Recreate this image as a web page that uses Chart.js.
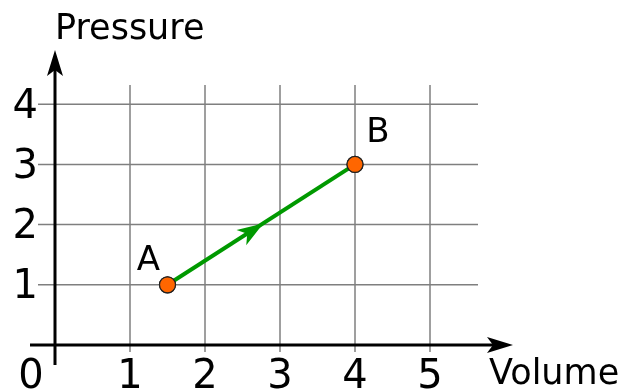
<!DOCTYPE html>
<html lang="en">
<head>
  <meta charset="UTF-8">
  <title>Pressure vs Volume</title>
  <script src="https://cdn.jsdelivr.net/npm/chart.js"></script>
  <style>
    html, body { margin: 0; padding: 0; background: #ffffff; }
    .chart-container { width: 624px; height: 390px; }
  </style>
</head>
<body>
  <div class="chart-container">
    <canvas id="pvChart" width="624" height="390"></canvas>
  </div>

  <script>
    // data
    const pointLabels = ['A', 'B'];
    const volumeValues = [1.5, 4];
    const pressureValues = [1, 3];
    const xTickLabels = [0, 1, 2, 3, 4, 5];
    const yTickLabels = [1, 2, 3, 4];

    const FONT = '"DejaVu Sans", Verdana, sans-serif';

    function arrowHead(ctx, tipX, tipY, angle, len, half, notch) {
      ctx.save();
      ctx.translate(tipX, tipY);
      ctx.rotate(angle);
      ctx.beginPath();
      ctx.moveTo(0, 0);
      ctx.lineTo(-len, -half);
      ctx.lineTo(-len + notch, 0);
      ctx.lineTo(-len, half);
      ctx.closePath();
      ctx.fill();
      ctx.restore();
    }

    // grid, axes and tick labels
    const axesPlugin = {
      id: 'axesPlugin',
      beforeDatasetsDraw(chart) {
        const ctx = chart.ctx;
        const x = chart.scales.x, y = chart.scales.y;
        const area = chart.chartArea;
        const x0 = x.getPixelForValue(0), y0 = y.getPixelForValue(0);
        ctx.save();

        // grid
        ctx.strokeStyle = '#7f7f7f';
        ctx.lineWidth = 1.5;
        xTickLabels.forEach(v => {
          if (v === 0) return;
          const px = x.getPixelForValue(v);
          ctx.beginPath();
          ctx.moveTo(px, area.top);
          ctx.lineTo(px, area.bottom);
          ctx.stroke();
        });
        yTickLabels.forEach(v => {
          const py = y.getPixelForValue(v);
          ctx.beginPath();
          ctx.moveTo(area.left, py);
          ctx.lineTo(area.right, py);
          ctx.stroke();
        });

        // axes
        ctx.strokeStyle = '#000000';
        ctx.fillStyle = '#000000';
        ctx.lineWidth = 3;
        ctx.beginPath();
        ctx.moveTo(x0, y0 + 20);
        ctx.lineTo(x0, 60);
        ctx.stroke();
        arrowHead(ctx, x0, 50, -Math.PI / 2, 26, 8, 6);
        ctx.beginPath();
        ctx.moveTo(x0 - 25, y0);
        ctx.lineTo(503, y0);
        ctx.stroke();
        arrowHead(ctx, 513, y0, 0, 26, 8, 6);

        // tick labels
        ctx.font = '40px ' + FONT;
        ctx.textAlign = 'center';
        ctx.textBaseline = 'alphabetic';
        xTickLabels.forEach(v => {
          const px = v === 0 ? x0 - 24 : x.getPixelForValue(v);
          ctx.fillText(String(v), px, 388);
        });
        ctx.textAlign = 'right';
        ctx.textBaseline = 'middle';
        yTickLabels.forEach(v => {
          ctx.fillText(String(v), 38, y.getPixelForValue(v) + 3);
        });

        // axis titles
        ctx.font = '35px ' + FONT;
        ctx.textAlign = 'left';
        ctx.textBaseline = 'alphabetic';
        ctx.fillText('Pressure', 55, 39);
        ctx.fillText('Volume', 489, 384);
        ctx.restore();
      },
      afterDatasetsDraw(chart) {
        const ctx = chart.ctx;
        const meta = chart.getDatasetMeta(0);
        const a = meta.data[0], b = meta.data[1];
        ctx.save();
        // direction arrow at the middle of the path
        const angle = Math.atan2(b.y - a.y, b.x - a.x);
        ctx.fillStyle = '#009900';
        arrowHead(ctx, (a.x + b.x) / 2 + 2, (a.y + b.y) / 2 - 1, angle, 26, 9, 7);
        // point labels
        ctx.fillStyle = '#000000';
        ctx.font = '34px ' + FONT;
        ctx.textAlign = 'center';
        ctx.textBaseline = 'middle';
        const offsets = [[-19, -24], [23, -31]];
        meta.data.forEach((p, i) => {
          ctx.fillText(pointLabels[i], p.x + offsets[i][0], p.y + offsets[i][1]);
        });
        // redraw points on top of arrow
        meta.data.forEach(p => p.draw(ctx, chart.chartArea));
        ctx.restore();
      }
    };

    const ctx = document.getElementById('pvChart').getContext('2d');
    const pvChart = new Chart(ctx, {
      type: 'scatter',
      data: {
        datasets: [{
          label: 'Process A to B',
          data: volumeValues.map((v, i) => ({ x: v, y: pressureValues[i] })),
          showLine: true,
          borderColor: '#009900',
          borderWidth: 4,
          pointRadius: 8,
          pointBackgroundColor: '#ff6600',
          pointBorderColor: '#222222',
          pointBorderWidth: 1.2
        }]
      },
      options: {
        responsive: false,
        animation: false,
        layout: { padding: { left: 38, right: 146, top: 85, bottom: 38 } },
        scales: {
          x: { type: 'linear', display: false, min: -17 / 75, max: 423 / 75 },
          y: { type: 'linear', display: false, min: -7 / 60.2, max: 260 / 60.2 }
        },
        plugins: {
          legend: { display: false },
          tooltip: { enabled: false }
        }
      },
      plugins: [axesPlugin]
    });
  </script>
</body>
</html>
